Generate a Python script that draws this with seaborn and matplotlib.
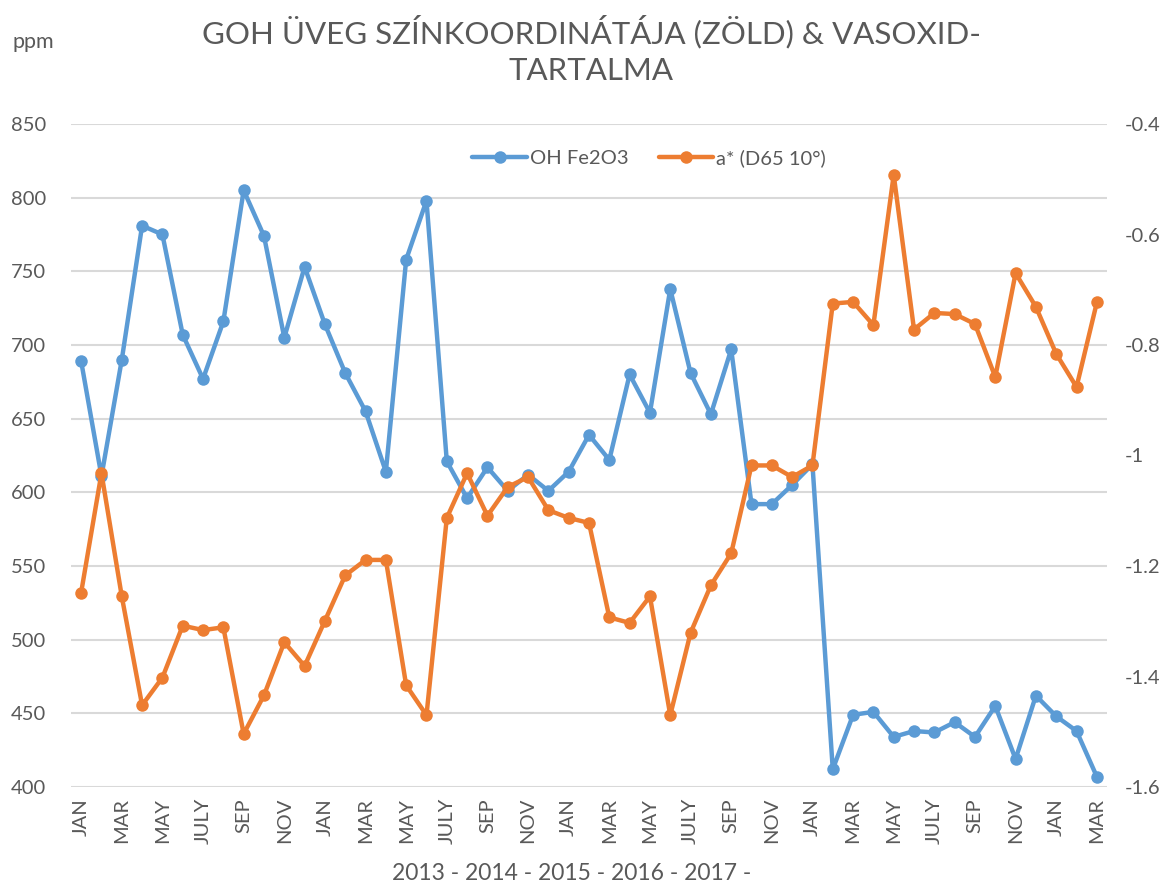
import numpy as np
import pandas as pd
import matplotlib
matplotlib.use("Agg")
import matplotlib.pyplot as plt
import seaborn as sns
from matplotlib.ticker import FuncFormatter

# ---- data ----
month_names = ["JAN", "FEB", "MAR", "APR", "MAY", "JUNE",
               "JULY", "AUG", "SEP", "OCT", "NOV", "DEC"]
years = [2013, 2014, 2015, 2016, 2017]
n_points = 51

oh_fe2o3 = [689, 611, 690, 781, 775, 707, 677, 716, 805, 774, 705, 753, 714, 681,
            655, 614, 758, 798, 621, 596, 617, 601, 612, 601, 614, 639,
            622, 680, 654, 738, 681, 653, 697, 592, 592, 605, 619, 412,
            449, 451, 434, 438, 437, 444, 434, 455, 419, 462, 448, 438, 407]

a_star = [-1.248, -1.032, -1.255, -1.452, -1.402, -1.308, -1.316, -1.311, -1.504,
          -1.434, -1.338, -1.381, -1.299, -1.217, -1.189, -1.189, -1.416, -1.470,
          -1.113, -1.032, -1.109, -1.057, -1.039, -1.099, -1.113, -1.122,
          -1.293, -1.303, -1.255, -1.470, -1.321, -1.235, -1.177, -1.018, -1.018,
          -1.039, -1.018, -0.725, -0.722, -0.764, -0.492, -0.772, -0.742, -0.744,
          -0.762, -0.858, -0.670, -0.731, -0.816, -0.876, -0.723]

left_ticks = [400, 450, 500, 550, 600, 650, 700, 750, 800, 850]
right_ticks = [-1.6, -1.4, -1.2, -1.0, -0.8, -0.6, -0.4]

title = "GOH ÜVEG SZÍNKOORDINÁTÁJA (ZÖLD) & VASOXID-\nTARTALMA"
xlabel = "2013 - 2014 - 2015 - 2016 - 2017 -"
label_blue = "OH Fe2O3"
label_orange = "a* (D65 10°)"

months = [m for y in years for m in month_names][:n_points]
df = pd.DataFrame({"idx": np.arange(n_points), "month": months,
                   "oh": oh_fe2o3, "a": a_star})

# ---- style ----
sns.set_theme(style="white")
plt.rcParams["font.family"] = ["Lato", "DejaVu Sans"]
plt.rcParams["axes.unicode_minus"] = False
txt = "#595959"
blue = "#5B9BD5"
orange = "#ED7D31"
grid_c = "#D9D9D9"

fig = plt.figure(figsize=(11.73, 8.86), dpi=100)
ax = fig.add_axes([71/1173, 1-787/886, (1107-71)/1173, (787-124)/886])
ax2 = ax.twinx()

sns.lineplot(data=df, x="idx", y="oh", ax=ax, color=blue, linewidth=3.2,
             marker="o", markersize=9, markeredgewidth=0, label=label_blue,
             legend=False)
sns.lineplot(data=df, x="idx", y="a", ax=ax2, color=orange, linewidth=3.2,
             marker="o", markersize=9, markeredgewidth=0, label=label_orange,
             legend=False)

ax.set_xlim(-0.5, n_points - 0.5)
ax.set_ylim(400, 850)
ax.set_yticks(left_ticks)
ax2.set_ylim(-1.6, -0.4)
ax2.set_yticks(right_ticks)
ax2.yaxis.set_major_formatter(FuncFormatter(lambda v, p: f"{v:g}"))

ax.set_xticks(df["idx"][::2])
ax.set_xticklabels(df["month"][::2], rotation=90)

ax.yaxis.grid(True, color=grid_c, linewidth=1.5)
ax.set_axisbelow(True)
for a in (ax, ax2):
    for s in a.spines.values():
        s.set_visible(False)
    a.tick_params(length=0, labelsize=14.5, labelcolor=txt)
ax.tick_params(axis="y", pad=18)
ax.tick_params(axis="x", pad=8)
ax2.tick_params(axis="y", pad=13)
ax.set_ylabel("")
ax2.set_ylabel("")
ax.set_xlabel("")

fig.text(572/1173, 1-873/886, xlabel, ha="center", va="center",
         fontsize=16.5, color=txt)
fig.text(591/1173, 1-50/886, title, ha="center", va="center",
         fontsize=22.5, color=txt, linespacing=1.4)
fig.text(12/1173, 1-42/886, "ppm", ha="left", va="center", fontsize=15.5,
         color=txt)

h1, l1 = ax.get_legend_handles_labels()
h2, l2 = ax2.get_legend_handles_labels()
ax2.legend(h1 + h2, l1 + l2, loc="center", bbox_to_anchor=(0.558, 0.949),
           ncol=2, frameon=False, fontsize=14.5, labelcolor=txt,
           handlelength=2.7, columnspacing=1.5, handletextpad=0.15)

fig.savefig("out.png", dpi=100, facecolor="white")
